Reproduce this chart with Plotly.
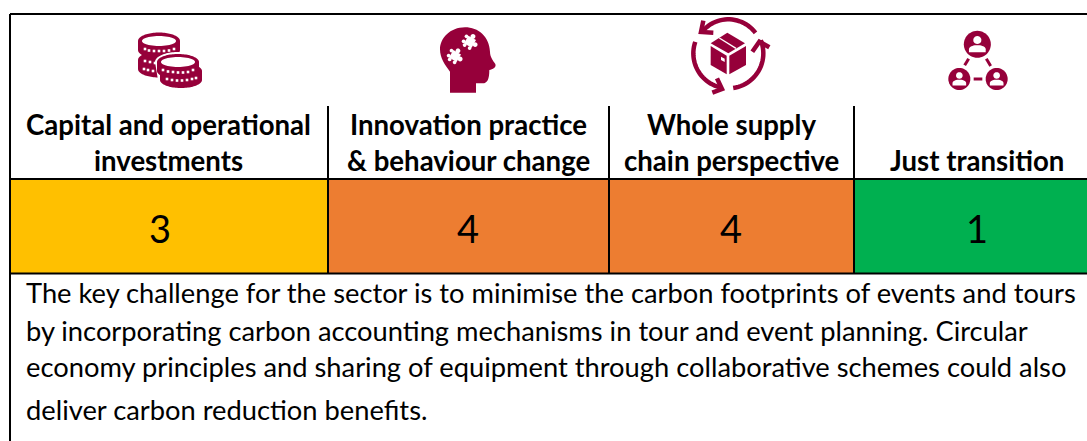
import math
import plotly.graph_objects as go

categories = [["Capital and operational", "investments"],
              ["Innovation practice", "& behaviour change"],
              ["Whole supply", "chain perspective"],
              ["Just transition"]]
scores = [3, 4, 4, 1]
score_colors = ["#FFC000", "#ED7D31", "#ED7D31", "#00B050"]
body_lines = ["The key challenge for the sector is to minimise the carbon footprints of events and tours",
              "by incorporating carbon accounting mechanisms in tour and event planning. Circular",
              "economy principles and sharing of equipment through collaborative schemes could also",
              "deliver carbon reduction benefits."]

W, H = 1087, 441
edges = [10, 328, 609, 854, 1087]
text_centres = [168.5, 468, 731, 977]
score_centres = [160, 468, 731, 977]
ROW_TOP, ROW_BOTTOM, TABLE_TOP, DIV_TOP = 179, 273.5, 14, 106
MAROON = "#96003A"
FONT = "Lato"
shapes = []


def poly(pts, fill=MAROON):
    d = "M" + "L".join(f"{x:.2f},{y:.2f}" for x, y in pts) + "Z"
    shapes.append(dict(type="path", path=d, fillcolor=fill, line=dict(width=0), xref="x", yref="y"))


def stroke(pts, width=4, color=MAROON):
    d = "M" + "L".join(f"{x:.2f},{y:.2f}" for x, y in pts)
    shapes.append(dict(type="path", path=d, line=dict(color=color, width=width), xref="x", yref="y"))


def ell(cx, cy, rx, ry, a0=0, a1=360, rot=0, n=48):
    pts = []
    for i in range(n + 1):
        t = math.radians(a0 + (a1 - a0) * i / n)
        x, y = rx * math.cos(t), ry * math.sin(t)
        r = math.radians(rot)
        pts.append((cx + x * math.cos(r) - y * math.sin(r), cy + x * math.sin(r) + y * math.cos(r)))
    return pts


def coin_stack(cx, cy, rx, ry, h, irx, iry, cx2, cy2, fill=MAROON):
    poly(ell(cx2, cy2 + h, rx, ry, 0, 180) + ell(cx2, cy2, rx, ry, 180, 360), fill)
    poly(ell(cx, cy + h, rx, ry, 0, 180) + ell(cx, cy, rx, ry, 180, 360), fill)
    poly(ell(cx, cy, irx, iry), "white")


def dots(items):
    for x, y in items:
        poly([(x - 1.3, y - 1.3), (x + 1.3, y - 1.3), (x + 1.3, y + 1.3), (x - 1.3, y + 1.3)], "white")


# --- coins icon
coin_stack(159, 41, 21, 8.5, 9, 17, 5, 159, 60, MAROON)
dots([(145, 49), (149, 50.5), (154, 51), (159, 51), (164, 51), (169, 50.5), (174, 49)])
dots([(145, 61), (150, 62), (155, 63), (144, 69), (148, 70), (153, 71)])
poly(ell(178, 62, 23, 10, 180, 360) + ell(181, 80, 23, 10, 0, 180), "white")
coin_stack(178, 62, 21, 8, 9, 17, 5, 181, 71, MAROON)
dots([(163, 70), (168, 71.5), (173, 72), (178, 72.5), (183, 72.5), (188, 72), (193, 70)])
dots([(167, 79), (172, 80), (177, 80.5), (182, 80.5), (187, 80), (192, 79), (196, 78)])


# --- head icon
def hz(x, y):
    return (400 + x / 3, 10 + y / 3)


def head_path():
    p = [(150, 248), (228, 248), (228, 220), (248, 220)]
    q = "M{:.2f},{:.2f}L{:.2f},{:.2f}L{:.2f},{:.2f}L{:.2f},{:.2f}".format(*sum((hz(*a) for a in p), ()))
    segs = [((262, 220), (268, 208), (268, 180)),
            ((278, 178), (290, 172), (286, 162)),
            ((278, 150), (270, 140), (270, 125)),
            ((268, 80), (235, 52), (195, 52)),
            ((150, 52), (120, 85), (120, 118)),
            ((120, 145), (135, 165), (150, 185))]
    for a, b, c in segs:
        q += "C{:.2f},{:.2f} {:.2f},{:.2f} {:.2f},{:.2f}".format(*hz(*a), *hz(*b), *hz(*c))
    return q + "Z"


shapes.append(dict(type="path", path=head_path(), fillcolor=MAROON, line=dict(width=0), xref="x", yref="y"))


def puzzle(cx, cy, s, rot):
    r = math.radians(rot)

    def t(x, y):
        return (cx + x * math.cos(r) - y * math.sin(r), cy + x * math.sin(r) + y * math.cos(r))

    poly([t(-s, -s), t(s, -s), t(s, s), t(-s, s)], "white")
    for dx, dy in [(0, -s * 1.35), (s * 1.35, 0)]:
        x, y = t(dx, dy)
        poly(ell(x, y, s * 0.55, s * 0.55, n=16), "white")
    for dx, dy in [(-s * 0.65, s * 1.3), (s * 0.65, s * 1.3), (-s * 1.3, -s * 0.65), (-s * 1.3, s * 0.65)]:
        x, y = t(dx, dy)
        poly(ell(x, y, s * 0.42, s * 0.42, n=12), "white")


puzzle(*hz(165, 138), 4.4, 30)
puzzle(*hz(210, 95), 4.4, 30)


# --- supply chain icon
def bz(x, y):
    return (670 + x / 3, 10 + y / 3)


poly([bz(172, 68), bz(225, 100), bz(175, 130), bz(122, 100)])
poly([bz(122, 108), bz(170, 137), bz(170, 193), bz(122, 165)])
poly([bz(178, 137), bz(228, 108), bz(228, 165), bz(178, 193)])
stroke([bz(148, 84), bz(198, 115)], 1.4, "white")
poly([bz(153, 140), bz(164, 146), bz(164, 156), bz(153, 150)], "white")
cx0, cy0 = bz(175, 130)
stroke(ell(cx0, cy0, 34, 34, -37, -138, n=24), 4.5)
stroke(ell(cx0, cy0, 35, 35, 82, -22, n=24), 4.5)
stroke(ell(cx0, cy0, 35, 35, 199, 105, n=24), 4.5)
stroke([bz(100, 32), bz(93, 66), bz(130, 68)], 4.5)
stroke([bz(247, 125), bz(268, 95), bz(298, 112)], 4.5)
stroke([bz(141, 205), bz(156, 237), bz(127, 248)], 4.5)


# --- people icon
def pz(x, y):
    return (920 + x / 3, 10 + y / 3)


def person(x, y, r):
    cx, cy = pz(x, y)
    poly(ell(cx, cy, r, r))
    poly(ell(cx, cy - r * 0.32, r * 0.3, r * 0.3, n=20), "white")
    poly(ell(cx, cy + r * 0.36, r * 0.62, r * 0.3, 180, 360, n=20)
         + [(cx + r * 0.62, cy + r * 0.58), (cx - r * 0.62, cy + r * 0.58)], "white")


person(172, 103, 13.5)
person(118, 207, 11)
person(230, 207, 11)
stroke([pz(146, 146), pz(134, 166)], 3)
stroke([pz(199, 146), pz(212, 168)], 3)
stroke([pz(161, 207), pz(187, 207)], 3)

# --- table rules
RULE = dict(color="black", width=2)
for (x0, y0, x1, y1) in [(edges[0], TABLE_TOP, W, TABLE_TOP),
                         (edges[0], TABLE_TOP, edges[0], H),
                         (edges[0], ROW_TOP, W, ROW_TOP),
                         (edges[0], ROW_BOTTOM, W, ROW_BOTTOM)] + \
                        [(e, DIV_TOP, e, ROW_BOTTOM) for e in edges[1:4]]:
    shapes.append(dict(type="line", x0=x0, y0=y0, x1=x1, y1=y1, line=RULE, xref="x", yref="y"))

fig = go.Figure()
fig.add_trace(go.Bar(
    x=[(a + b) / 2 for a, b in zip(edges[:-1], edges[1:])],
    y=[ROW_BOTTOM - ROW_TOP] * len(scores),
    base=[ROW_TOP] * len(scores),
    width=[b - a for a, b in zip(edges[:-1], edges[1:])],
    marker=dict(color=score_colors, line=dict(width=0)),
    hoverinfo="skip",
    showlegend=False,
))

annotations = []


def label(x, y, text, size, bold=False, anchor="center"):
    annotations.append(dict(x=x, y=y, xref="x", yref="y", text=f"<b>{text}</b>" if bold else text,
                            showarrow=False, xanchor=anchor, yanchor="middle",
                            font=dict(family=FONT, size=size, color="black")))


for cx, lines in zip(text_centres, categories):
    ys = [124, 160] if len(lines) == 2 else [160]
    for y, line in zip(ys, lines):
        label(cx, y, line, 27.6, bold=True)
for cx, s in zip(score_centres, scores):
    label(cx, 228, str(s), 38)
for y, line in zip([292.5, 330, 366, 409], body_lines):
    label(24, y, line, 27.3, anchor="left")

fig.update_layout(
    width=W, height=H, margin=dict(l=0, r=0, t=0, b=0),
    paper_bgcolor="white", plot_bgcolor="white", showlegend=False,
    xaxis=dict(range=[0, W], visible=False, fixedrange=True),
    yaxis=dict(range=[H, 0], visible=False, fixedrange=True),
    shapes=shapes, annotations=annotations, bargap=0,
)
fig.write_html("out.html", config=dict(displayModeBar=False, responsive=False),
               post_script="document.body.style.margin='0';document.documentElement.style.overflow='hidden';")
